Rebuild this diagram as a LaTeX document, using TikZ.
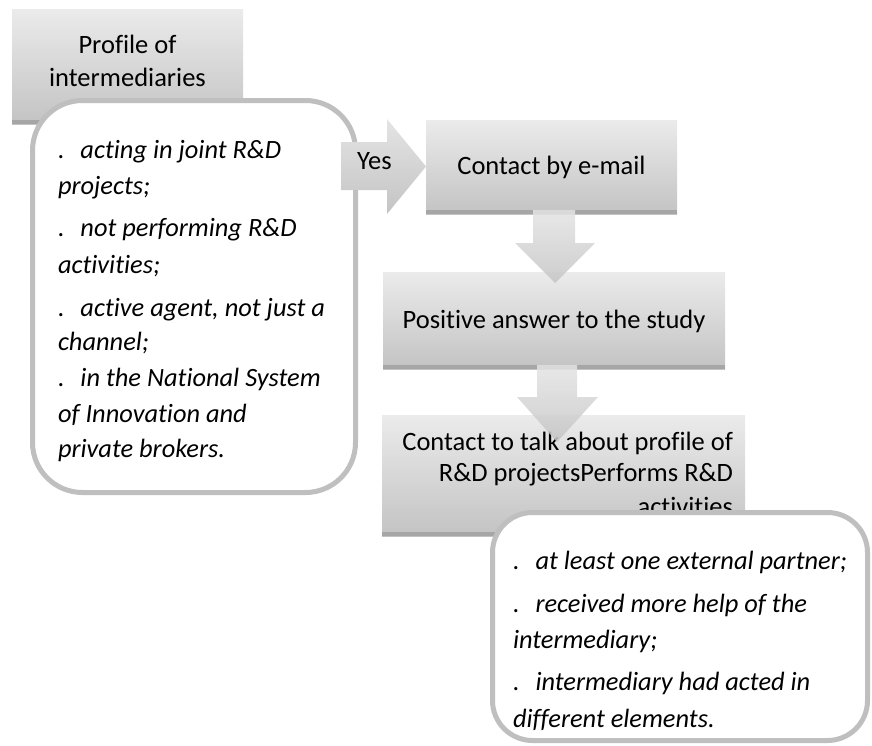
\documentclass[tikz,border=0pt]{standalone}
\usepackage{fontspec}
\setmainfont{Carlito}[Ligatures={NoCommon,NoContextual}]
\definecolor{boxtop}{HTML}{EBEBEB}
\definecolor{boxbot}{HTML}{C3C3C3}
\definecolor{bandgray}{HTML}{A6A6A6}
\definecolor{arrowtop}{HTML}{E4E4E4}
\definecolor{arrowbot}{HTML}{C4C4C4}
\definecolor{framegray}{HTML}{BFBFBF}
\newcommand{\bul}{.\hspace{0.6em}}
\begin{document}
\begin{tikzpicture}[x=1pt,y=-1pt,
  every node/.style={inner sep=0pt, outer sep=0pt},
  txt/.style={font=\fontsize{26.5pt}{31pt}\selectfont, text=black},
  itxt/.style={font=\fontsize{26.4pt}{36pt}\selectfont\itshape, text=black, anchor=base west},
  stepbox/.style={anchor=north west, top color=boxtop, bottom color=boxbot,
    path picture={\fill[bandgray] (path picture bounding box.south west)
      rectangle ([yshift=4pt]path picture bounding box.south east);}},
  listbox/.style={anchor=north west, draw=framegray, fill=white, line width=5pt},
  blockarrow/.style={top color=arrowtop, bottom color=arrowbot, draw=none},
]
\useasboundingbox (0,0) rectangle (872,745);

% first step and its criteria list
\node[stepbox, minimum width=231pt, minimum height=115pt] (prof) at (12,9) {};
\node[txt, anchor=base] (proft1) at (127.5,53) {Profile of};
\node[txt, anchor=base] (proft2) at (127.5,86) {intermediaries};

\node[listbox, rounded corners=50pt, minimum width=323pt, minimum height=392pt] (crit) at (32.5,100.5) {};
\node[itxt] (c1) at (58,158) {\bul acting in joint R\&D};
\node[itxt] (c2) at (58,194) {projects;};
\node[itxt] (c3) at (58,236) {\bul not performing R\&D};
\node[itxt] (c4) at (58,273) {activities;};
\node[itxt] (c5) at (58,316) {\bul active agent, not just a};
\node[itxt] (c6) at (58,350) {channel;};
\node[itxt] (c7) at (58,386) {\bul in the National System};
\node[itxt] (c8) at (58,422) {of Innovation and};
\node[itxt] (c9) at (58,457) {private brokers.};

% "Yes" block arrow
\path[blockarrow] (341,142) -- (387,142) -- (387,119) -- (426,166.5)
  -- (387,214) -- (387,190) -- (341,190) -- cycle;
\node[txt, anchor=base] (yes) at (374.5,169) {Yes};

% e-mail contact
\node[stepbox, minimum width=251pt, minimum height=94pt] (mail) at (426,120) {};
\node[txt, anchor=base] (mailt) at (551.5,174) {Contact by e-mail};

% positive answer
\node[stepbox, minimum width=342pt, minimum height=97pt] (answer) at (383,272) {};
\node[txt, anchor=base] (answert) at (554,328) {Positive answer to the study};

% arrow from e-mail to answer
\path[blockarrow, fill opacity=0.85] (533,210) -- (575,210) -- (575,243) -- (595,243)
  -- (555,283) -- (515,243) -- (533,243) -- cycle;

% talk about projects
\node[stepbox, minimum width=363pt, minimum height=121pt] (talk) at (382,415) {};
\node[txt, anchor=base east] (talk1) at (733,450) {Contact to talk about profile of};
\node[txt, anchor=base east] (talk2) at (733,481) {R\&D projectsPerforms R\&D};
\node[txt, anchor=base east] (talk3) at (733,515) {activities};

% arrow from answer to talk
\path[blockarrow, fill opacity=0.85] (537,365) -- (577,365) -- (577,397) -- (598,397)
  -- (557,442) -- (517,397) -- (537,397) -- cycle;

% project criteria list
\node[listbox, rounded corners=40pt, minimum width=375pt, minimum height=228pt] (proj) at (492.5,512.5) {};
\node[itxt] (p1) at (513,569) {\bul at least one external partner;};
\node[itxt] (p2) at (513,612) {\bul received more help of the};
\node[itxt] (p3) at (513,648) {intermediary;};
\node[itxt] (p4) at (513,690) {\bul intermediary had acted in};
\node[itxt] (p5) at (513,727) {different elements.};
\end{tikzpicture}
\end{document}
